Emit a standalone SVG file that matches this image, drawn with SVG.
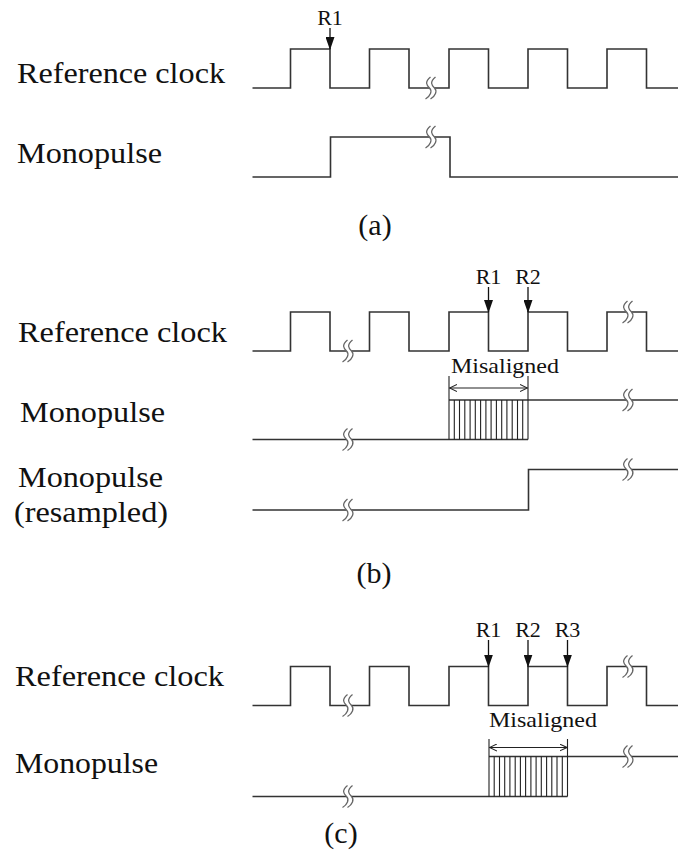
<svg xmlns="http://www.w3.org/2000/svg" xmlns:xlink="http://www.w3.org/1999/xlink" width="678" height="856" viewBox="0 0 678 856" font-family="'Liberation Serif', serif">
<style>
  text { font-family: 'Liberation Serif', serif; fill: #111; }
  .lbl { font-size: 30px; }
  .cap { font-size: 30px; text-anchor: middle; }
  .r { font-size: 22px; text-anchor: middle; }
  .mis { font-size: 22px; }
  .wave { fill: none; stroke: #333; stroke-width: 1.6; stroke-linejoin: miter; }
  .hatch { fill: none; stroke: #222; stroke-width: 1.1; }
  .arr { fill: none; stroke: #111; stroke-width: 1.3; marker-end: url(#tri); }
  .dbl { fill: none; stroke: #222; stroke-width: 1.1; marker-start: url(#open); marker-end: url(#open); }
  .brk-fill { fill: #fff; stroke: none; }
  .brk { fill: none; stroke: #666; stroke-width: 1.3; }
</style>
<defs>
  <marker id="tri" viewBox="0 0 13 9" markerWidth="13" markerHeight="9" refX="12" refY="4.5" orient="auto" markerUnits="userSpaceOnUse">
    <path d="M0,0 L13,4.5 L0,9 z" fill="#111"/>
  </marker>
  <marker id="open" viewBox="0 0 8 8" markerWidth="8" markerHeight="8" refX="7.5" refY="4" orient="auto-start-reverse" markerUnits="userSpaceOnUse">
    <path d="M0,0.5 L7.5,4 L0,7.5" fill="none" stroke="#222" stroke-width="1.1"/>
  </marker>
  <g id="brk">
    <path class="brk-fill" d="M-0.5,-11 C-6.5,-6 -4.5,-3 -1.5,0 C1.5,3 -0.5,8 -5.5,11 L-0.5,11 C4.5,8 6.5,3 3.5,0 C0.5,-3 -1.5,-6 4.5,-11 z"/>
    <path class="brk" d="M-0.5,-11 C-6.5,-6 -4.5,-3 -1.5,0 C1.5,3 -0.5,8 -5.5,11"/>
    <path class="brk" d="M4.5,-11 C-1.5,-6 0.5,-3 3.5,0 C6.5,3 4.5,8 -0.5,11"/>
  </g>
</defs>

<!-- Panel (a) -->
<g id="panel-a">
  <text class="lbl" x="17" y="83" textLength="208" lengthAdjust="spacingAndGlyphs">Reference clock</text>
  <text class="lbl" x="17" y="163" textLength="145" lengthAdjust="spacingAndGlyphs">Monopulse</text>
  <g id="a-clock">
    <path class="wave" d="M252.5,88 H290.5 V49 H330 V88 H369.5 V49 H409 V88 H449 V49 H488.5 V88 H528 V49 H567.5 V88 H607 V49 H646.5 V88 H678"/>
    <use xlink:href="#brk" x="431" y="88"/>
  </g>
  <g id="a-monopulse">
    <path class="wave" d="M252.5,177 H330.5 V137 H450 V177 H678"/>
    <use xlink:href="#brk" x="431" y="137"/>
  </g>
  <g id="a-r1">
    <text class="r" x="330" y="25">R1</text>
  </g>
  <text class="cap" x="375" y="235">(a)</text>
</g>

<!-- Panel (b) -->
<g id="panel-b">
  <text class="lbl" x="18" y="342" textLength="209" lengthAdjust="spacingAndGlyphs">Reference clock</text>
  <text class="lbl" x="20" y="422" textLength="145" lengthAdjust="spacingAndGlyphs">Monopulse</text>
  <text class="lbl" x="18" y="487" textLength="145" lengthAdjust="spacingAndGlyphs">Monopulse</text>
  <text class="lbl" x="14" y="522" textLength="154" lengthAdjust="spacingAndGlyphs">(resampled)</text>
  <g id="b-clock">
    <path class="wave" d="M252.5,351 H290.5 V312 H330 V351 H369.5 V312 H409 V351 H449 V312 H488.5 V351 H528 V312 H567.5 V351 H607 V312 H646.5 V351 H678"/>
    <use xlink:href="#brk" x="348" y="351"/>
    <use xlink:href="#brk" x="628" y="312"/>
  </g>
  <g id="b-r-labels">
    <text class="r" x="488.5" y="284">R1</text>
    <text class="r" x="528" y="284">R2</text>
  </g>
  <g id="b-monopulse">
    <path class="wave" d="M252.5,439.5 H528 M449,400 H678"/>
    <path class="hatch" d="M454.3,400 V439.5 M459.5,400 V439.5 M464.8,400 V439.5 M470.1,400 V439.5 M475.3,400 V439.5 M480.6,400 V439.5 M485.9,400 V439.5 M491.1,400 V439.5 M496.4,400 V439.5 M501.7,400 V439.5 M506.9,400 V439.5 M512.2,400 V439.5 M517.5,400 V439.5 M522.7,400 V439.5"/>
    <use xlink:href="#brk" x="348" y="439.5"/>
    <use xlink:href="#brk" x="628" y="400"/>
  </g>
  <g id="b-misaligned">
    <text class="mis" x="451" y="373" textLength="108" lengthAdjust="spacingAndGlyphs">Misaligned</text>
  </g>
  <g id="b-resampled">
    <path class="wave" d="M252.5,510 H528.5 V469.5 H678"/>
    <use xlink:href="#brk" x="348" y="510"/>
    <use xlink:href="#brk" x="628" y="469.5"/>
  </g>
  <text class="cap" x="374" y="583">(b)</text>
</g>

<!-- Panel (c) -->
<g id="panel-c">
  <text class="lbl" x="15" y="686" textLength="209" lengthAdjust="spacingAndGlyphs">Reference clock</text>
  <text class="lbl" x="15" y="773" textLength="143" lengthAdjust="spacingAndGlyphs">Monopulse</text>
  <g id="c-clock">
    <path class="wave" d="M252.5,705.5 H290.5 V666.5 H330 V705.5 H369.5 V666.5 H409 V705.5 H449 V666.5 H488.5 V705.5 H528 V666.5 H567.5 V705.5 H607 V666.5 H646.5 V705.5 H678"/>
    <use xlink:href="#brk" x="348" y="705.5"/>
    <use xlink:href="#brk" x="628" y="666.5"/>
  </g>
  <g id="c-r-labels">
    <text class="r" x="488.5" y="637">R1</text>
    <text class="r" x="528" y="637">R2</text>
    <text class="r" x="567.5" y="637">R3</text>
  </g>
  <g id="c-monopulse">
    <path class="wave" d="M252.5,796.5 H567.5 M489,756.5 H678"/>
    <path class="hatch" d="M494.2,756.5 V796.5 M499.5,756.5 V796.5 M504.7,756.5 V796.5 M509.9,756.5 V796.5 M515.2,756.5 V796.5 M520.4,756.5 V796.5 M525.6,756.5 V796.5 M530.9,756.5 V796.5 M536.1,756.5 V796.5 M541.3,756.5 V796.5 M546.6,756.5 V796.5 M551.8,756.5 V796.5 M557.0,756.5 V796.5 M562.3,756.5 V796.5"/>
    <use xlink:href="#brk" x="348" y="796.5"/>
    <use xlink:href="#brk" x="628" y="756.5"/>
  </g>
  <g id="c-misaligned">
    <text class="mis" x="489" y="727" textLength="108" lengthAdjust="spacingAndGlyphs">Misaligned</text>
  </g>
  <text class="cap" x="341" y="843">(c)</text>
</g>

<!-- Connectors: reference arrows and dimension lines -->
<g id="connectors">
  <path class="arr" d="M330,28 V49"/>
  <path class="arr" d="M488.5,287 V312"/>
  <path class="arr" d="M528,287 V312"/>
  <path class="arr" d="M488.5,640 V666.5"/>
  <path class="arr" d="M528,640 V666.5"/>
  <path class="arr" d="M567.5,640 V666.5"/>
  <path class="hatch" d="M449,376 V439.5 M528,376 V439.5"/>
  <path class="dbl" d="M449.5,388 H527.5"/>
  <path class="hatch" d="M489,739 V796.5 M567.5,739 V796.5"/>
  <path class="dbl" d="M489.5,747.5 H567"/>
</g>
</svg>
